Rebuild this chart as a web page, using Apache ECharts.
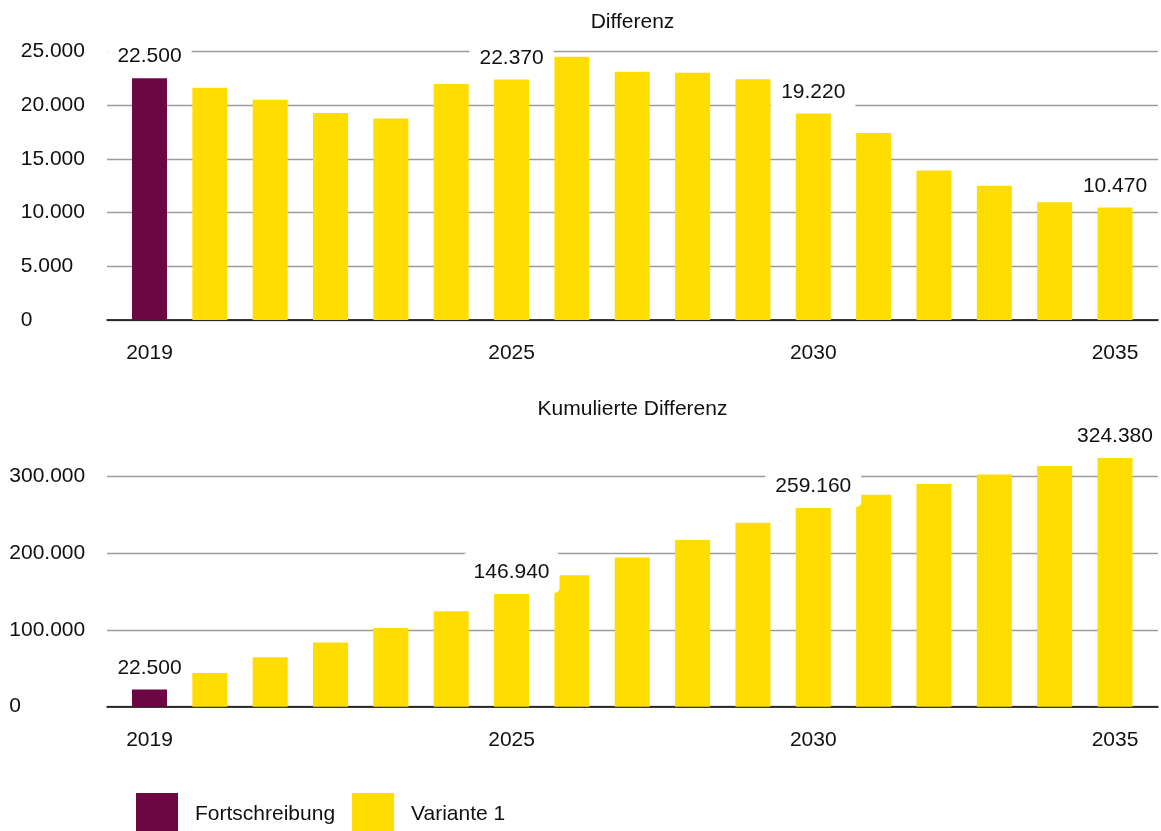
<!DOCTYPE html>
<html><head><meta charset="utf-8">
<script src="https://cdn.jsdelivr.net/npm/echarts@6/dist/echarts.min.js"></script>
<style>html,body{margin:0;padding:0;background:#fff}#c{width:1161px;height:831px}</style>
</head><body><div id="c"></div>
<script>
// ---- data ----
const years = [2019,2020,2021,2022,2023,2024,2025,2026,2027,2028,2029,2030,2031,2032,2033,2034,2035];
const fortschreibungYears = [2019];
const differenz = [22500,21600,20500,19260,18750,21960,22370,24500,23100,23000,22400,19220,17400,13900,12500,10950,10470];
const kumuliert = [22500,44100,64600,83860,102610,124570,146940,171440,194540,217540,239940,259160,276560,290460,302960,313910,324380];
const labeledYears = [2019,2025,2030,2035];
const xTickLabels = [2019,2025,2030,2035];
const seriesNames = ['Fortschreibung','Variante 1'];
const chartTitles = ['Differenz','Kumulierte Differenz'];
const yTicksTop = {min:0, max:25000, interval:5000};
const yTicksBottom = {min:0, max:300000, interval:100000};

// ---- style ----
const FONT = '"Liberation Sans", Arial, sans-serif';
const FS = 21;
const TXT = '#111111';
const PURPLE = '#6d0744';
const YELLOW = '#ffdd00';

function fmt(v){ return String(Math.round(v)).replace(/\B(?=(\d{3})+(?!\d))/g,'.'); }

function buildData(values, forFortschreibung){
  const out = [];
  years.forEach((y,i)=>{
    const isF = fortschreibungYears.includes(y);
    if (isF === forFortschreibung) {
      out.push({value:[y, values[i]], label:{show: labeledYears.includes(y)}});
    }
  });
  return out;
}

const labelCfg = {
  show:false, position:'top', distance:1,
  formatter: p => fmt(p.value[1]),
  backgroundColor:'#ffffff', padding:10, borderRadius:5,
  color:TXT, fontSize:FS, fontFamily:FONT
};

function barSeries(name, idx, values, isF){
  return {
    name, type:'bar', xAxisIndex:idx, yAxisIndex:idx,
    barWidth:35, barGap:'-100%', clip:false,
    itemStyle:{color: isF ? PURPLE : YELLOW},
    label: labelCfg,
    data: buildData(values, isF)
  };
}

const xMin = 2018.2957, xMax = 2035.7126;
function xAxis(idx){
  return {
    type:'value', gridIndex:idx, min:xMin, max:xMax,
    axisLine:{show:true, onZero:false, lineStyle:{color:'#000', width:1.5}},
    axisTick:{show:false}, splitLine:{show:false},
    axisLabel:{customValues:xTickLabels, formatter:v=>String(v), margin:23,
      color:TXT, fontSize:FS, fontFamily:FONT}
  };
}
function yAxis(idx, ticks, margin){
  return {
    type:'value', gridIndex:idx, min:ticks.min, max:ticks.max, interval:ticks.interval,
    axisLine:{show:false}, axisTick:{show:false},
    splitLine:{show:true, lineStyle:{color:'#9c9c9c', width:1.3}},
    axisLabel:{align:'left', margin, formatter:v=>fmt(v), color:TXT, fontSize:FS, fontFamily:FONT}
  };
}

const chart = echarts.init(document.getElementById('c'), null, {renderer:'canvas'});
chart.setOption({
  animation:false,
  backgroundColor:'#ffffff',
  textStyle:{fontFamily:FONT},
  grid:[
    {left:107, right:3, top:51.25, height:268.75},
    {left:107, right:3, top:476.7, height:230}
  ],
  xAxis:[xAxis(0), xAxis(1)],
  yAxis:[yAxis(0, yTicksTop, 86.3), yAxis(1, yTicksBottom, 97.7)],
  legend:{
    data:seriesNames, left:136, top:793, padding:0, orient:'horizontal',
    icon:'rect', itemWidth:42, itemHeight:42, itemGap:17,
    textStyle:{color:TXT, fontSize:FS, fontFamily:FONT, padding:[0,0,0,12]}
  },
  graphic:[
    {type:'text', x:632.5, y:22, style:{text:chartTitles[0], font:FS+'px '+FONT, fill:TXT, align:'center', verticalAlign:'middle', textAlign:'center', textVerticalAlign:'middle'}},
    {type:'text', x:632.5, y:409, style:{text:chartTitles[1], font:FS+'px '+FONT, fill:TXT, align:'center', verticalAlign:'middle', textAlign:'center', textVerticalAlign:'middle'}}
  ],
  series:[
    barSeries(seriesNames[0], 0, differenz, true),
    barSeries(seriesNames[1], 0, differenz, false),
    barSeries(seriesNames[0], 1, kumuliert, true),
    barSeries(seriesNames[1], 1, kumuliert, false)
  ]
});
</script>
</body></html>
